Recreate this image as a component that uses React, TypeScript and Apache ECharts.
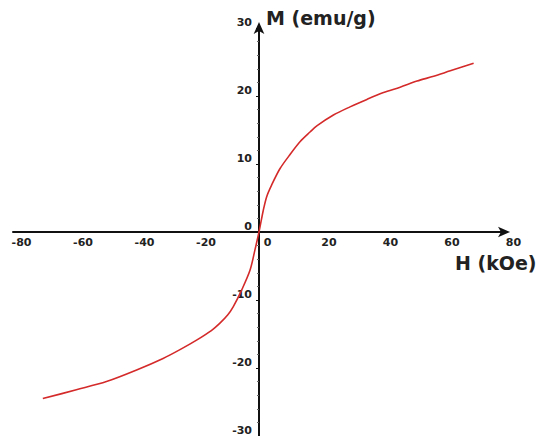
import React, { useEffect, useRef } from "react";
import * as echarts from "echarts";

// Magnetic field H (kOe) and magnetization M (emu/g)
const fieldH = [-70.3, -59.4, -49.6, -39.8, -31.2, -25.7, -20.3, -15.5, -12.7, -10.2, -8.4, -5.6, -2.9, -1.3, 0, 1.4, 2.5, 4.1, 6.8, 10.1, 13.4, 16.6, 18.8, 24.2, 29.6, 35.1, 40.5, 45.9, 51.4, 56.8, 62.2, 69.8];
const magM = [-24.5, -23.2, -22.0, -20.3, -18.6, -17.3, -15.9, -14.5, -13.4, -12.2, -11.0, -8.5, -5.6, -2.6, 0, 3.2, 5.2, 6.9, 9.3, 11.4, 13.3, 14.7, 15.6, 17.2, 18.4, 19.5, 20.5, 21.3, 22.2, 22.9, 23.7, 24.8];

const xTicks = { min: -80, max: 80, step: 20 };
const yTicks = { min: -30, max: 30, step: 10 };

const xName = "H (kOe)";
const yName = "M (emu/g)";

const FONT = "DejaVu Sans";

export default function App() {
  const ref = useRef<HTMLDivElement>(null);
  useEffect(() => {
    if (!ref.current) return;
    const chart = echarts.init(ref.current, undefined, { renderer: "svg" });
    const data = fieldH.map((h, i) => [h, magM[i]]);
    const gridLeft = 13;
    const gridRight = 32;
    const gridTop = 28;
    const gridBottom = 0;
    const W = 537;
    const H = 436;
    const plotW = W - gridLeft - gridRight;
    const plotH = H - gridTop - gridBottom;
    // place axes so they cross at the zero of the other axis
    const yAxisOffset = -((0 - xTicks.min) / (xTicks.max - xTicks.min)) * plotW;
    const xAxisOffset = -((0 - yTicks.min) / (yTicks.max - yTicks.min)) * plotH;
    chart.setOption({
      animation: false,
      backgroundColor: "#ffffff",
      grid: {
        left: gridLeft,
        right: gridRight,
        top: gridTop,
        bottom: gridBottom,
        containLabel: false,
        outerBoundsMode: "none",
      },
      xAxis: {
        type: "value",
        position: "bottom",
        offset: xAxisOffset,
        min: xTicks.min,
        max: xTicks.max,
        interval: xTicks.step,
        splitLine: { show: false },
        axisLine: {
          onZero: false,
          lineStyle: { color: "#111", width: 2 },
          symbol: ["none", "arrow"],
          symbolSize: [8, 12],
          symbolOffset: [0, 5],
        },
        axisTick: { show: false },
        axisLabel: {
          margin: 5,
          formatter: (v: number) => "{a|" + v + "}",
          rich: {
            a: {
              fontFamily: FONT,
              fontWeight: "bold",
              fontSize: 11,
              color: "#222",
              padding: [0, 0, 0, 17],
            },
          },
          showMinLabel: true,
          showMaxLabel: true,
        },
      },
      yAxis: {
        type: "value",
        position: "left",
        offset: yAxisOffset,
        min: yTicks.min,
        max: yTicks.max,
        interval: yTicks.step,
        splitLine: { show: false },
        axisLine: {
          onZero: false,
          lineStyle: { color: "#111", width: 2 },
          symbol: ["none", "arrow"],
          symbolSize: [8, 12],
          symbolOffset: [0, 6],
        },
        axisTick: { show: true, length: 3, lineStyle: { color: "#111", width: 1 } },
        minorTick: { show: true, splitNumber: 5, length: 2, lineStyle: { color: "#666", width: 1 } },
        axisLabel: {
          margin: 7,
          fontFamily: FONT,
          fontWeight: "bold",
          fontSize: 11,
          color: "#222",
          verticalAlign: "bottom",
          showMinLabel: true,
          showMaxLabel: true,
        },
      },
      graphic: [
        {
          type: "text",
          left: 266,
          top: 8,
          style: {
            text: yName,
            fontFamily: FONT,
            fontWeight: "bold",
            fontSize: 19,
            fill: "#222",
          },
        },
        {
          type: "text",
          left: 455,
          top: 253,
          style: {
            text: xName,
            fontFamily: FONT,
            fontWeight: "bold",
            fontSize: 19,
            fill: "#222",
          },
        },
      ],
      series: [
        {
          type: "line",
          data,
          smooth: 0.3,
          showSymbol: false,
          lineStyle: { color: "#d42a2a", width: 1.6 },
        },
      ],
    });
    return () => chart.dispose();
  }, []);
  return (
    <div
      ref={ref}
      style={{ position: "fixed", left: 0, top: 0, width: 537, height: 436, background: "#fff" }}
    />
  );
}
